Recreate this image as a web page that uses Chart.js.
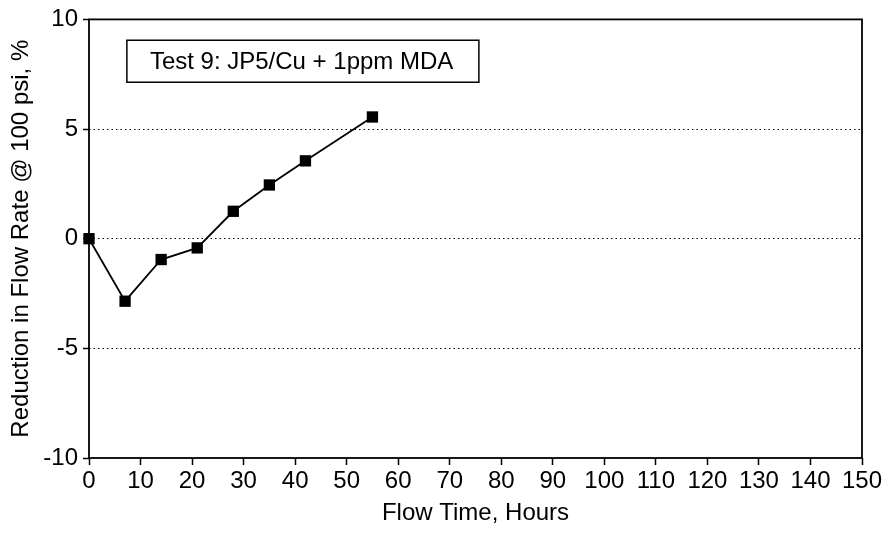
<!DOCTYPE html>
<html>
<head>
<meta charset="utf-8">
<script src="https://cdn.jsdelivr.net/npm/chart.js@4.4.0/dist/chart.umd.min.js"></script>
<style>
  html, body { margin: 0; padding: 0; background: #fff; }
  #wrap { width: 891px; height: 534px; }
</style>
</head>
<body>
<div id="wrap"><canvas id="c" width="891" height="534"></canvas></div>
<script>
const flowHours = [0, 7, 14, 21, 28, 35, 42, 55];
const reductionPct = [0, -2.85, -0.95, -0.42, 1.25, 2.45, 3.55, 5.55];
const xTickMin = 0, xTickMax = 150, xTickStep = 10;
const yTickMin = -10, yTickMax = 10, yTickStep = 5;
const legendLabel = 'Test 9: JP5/Cu + 1ppm MDA';
const xTitle = 'Flow Time, Hours';
const yTitle = 'Reduction in Flow Rate @ 100 psi, %';

const FONT = 'Liberation Sans, Arial, Helvetica, sans-serif';

const framePlugin = {
  id: 'frame',
  beforeDatasetsDraw(chart) {
    const { ctx, chartArea: a } = chart;
    ctx.save();
    ctx.strokeStyle = '#000';
    ctx.lineWidth = 1.8;
    ctx.setLineDash([]);
    ctx.strokeRect(a.left, a.top, a.right - a.left, a.bottom - a.top);
    ctx.restore();
  },
  afterDatasetsDraw(chart) {
    const { ctx } = chart;
    const x = chart.scales.x, y = chart.scales.y;
    const bx = x.getPixelForValue(7.35), by = y.getPixelForValue(9.05);
    const bw = 352, bh = 42;
    ctx.save();
    ctx.fillStyle = '#fff';
    ctx.fillRect(bx, by, bw, bh);
    ctx.strokeStyle = '#000';
    ctx.lineWidth = 1.5;
    ctx.strokeRect(bx, by, bw, bh);
    ctx.fillStyle = '#000';
    ctx.font = '24px ' + FONT;
    ctx.textBaseline = 'middle';
    ctx.textAlign = 'left';
    ctx.fillText(legendLabel, bx + 23, by + bh / 2 + 1);
    ctx.restore();
  }
};

new Chart(document.getElementById('c'), {
  type: 'line',
  data: {
    datasets: [{
      label: legendLabel,
      data: flowHours.map((h, i) => ({ x: h, y: reductionPct[i] })),
      borderColor: '#000',
      backgroundColor: '#000',
      borderWidth: 1.8,
      pointStyle: 'rect',
      pointRadius: 8,
      pointHoverRadius: 8,
      pointBorderWidth: 0,
      tension: 0,
      clip: false
    }]
  },
  options: {
    responsive: false,
    animation: false,
    devicePixelRatio: 1,
    layout: { padding: { left: 0, top: 17, right: 29, bottom: 0 } },
    plugins: { legend: { display: false }, tooltip: { enabled: false } },
    scales: {
      x: {
        type: 'linear',
        min: xTickMin, max: xTickMax,
        ticks: { stepSize: xTickStep, color: '#000', font: { family: FONT, size: 24 }, padding: 2, maxRotation: 0, autoSkip: false },
        grid: { drawOnChartArea: false, drawTicks: true, tickLength: 7, tickColor: '#000', tickWidth: 1.5, color: '#000' },
        border: { display: false },
        title: { display: true, text: xTitle, color: '#000', font: { family: FONT, size: 24 }, padding: { top: 0, bottom: 6 } },
        afterFit(s) { s.height = 76; }
      },
      y: {
        type: 'linear',
        min: yTickMin, max: yTickMax,
        ticks: { stepSize: yTickStep, color: '#000', font: { family: FONT, size: 24 }, padding: 5 },
        grid: {
          drawOnChartArea: true, drawTicks: true, tickLength: 6, tickColor: '#000', tickWidth: 1.5, tickBorderDash: [],
          color: (c) => (c.tick && (c.tick.value === yTickMin || c.tick.value === yTickMax)) ? 'rgba(0,0,0,0)' : '#000',
          lineWidth: 1
        },
        border: { display: false, dash: [1.5, 3] },
        title: { display: true, text: yTitle, color: '#000', font: { family: FONT, size: 24 }, padding: { top: 7, bottom: 0 } },
        afterFit(s) { s.width = 89; }
      }
    }
  },
  plugins: [framePlugin]
});
</script>
</body>
</html>
